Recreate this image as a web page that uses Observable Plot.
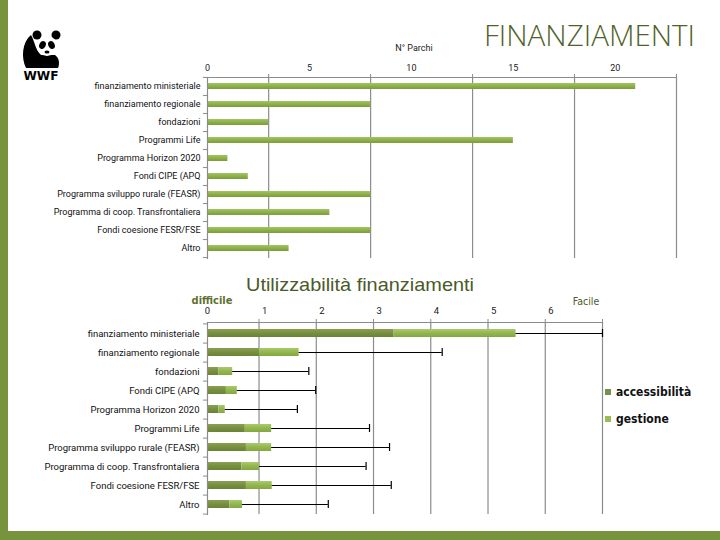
<!DOCTYPE html>
<html>
<head>
<meta charset="utf-8">
<script src="https://cdn.jsdelivr.net/npm/d3@7"></script>
<script src="https://cdn.jsdelivr.net/npm/@observablehq/plot@0.6"></script>
<style>
  body { margin:0; }
  #page { position:relative; width:720px; height:540px; overflow:hidden; background:#fff; font-family: Roboto, "DejaVu Sans", sans-serif; }
  .abs { position:absolute; }
  #top, #bottom { position:absolute; left:0; }
  #top { top:40px; }
  #bottom { top:290px; }
  .leg { position:absolute; left:605px; font-family:"DejaVu Sans Condensed","DejaVu Sans",sans-serif; font-weight:bold; font-size:12px; color:#111; }
  .leg span.sw { display:inline-block; width:6px; height:6px; margin-right:5px; vertical-align:middle; position:relative; top:-1px; }
</style>
</head>
<body>
<div id="page">
  <div class="abs" style="left:0;top:0;width:8px;height:540px;background:#77933c"></div>
  <div class="abs" style="left:0;top:531px;width:720px;height:9px;background:#77933c"></div>
  <svg class="abs" style="left:0;top:0" width="720" height="540">
    <!-- WWF logo approximation -->
    <g>
      <path d="M31,35 C22,42 21,58 26,68 L58,68 C60,63 59,58 55,55 L41,55 C35,49 35,42 31,35Z" fill="#000"/>
      <circle cx="37" cy="35" r="4.5" fill="#000"/>
      <circle cx="56" cy="35" r="4.5" fill="#000"/>
      <ellipse cx="47" cy="46" rx="10.5" ry="10" fill="#fff"/>
      <ellipse cx="42.5" cy="45" rx="3.2" ry="4" fill="#000" transform="rotate(25 42.5 45)"/>
      <ellipse cx="51.5" cy="45" rx="3.2" ry="4" fill="#000" transform="rotate(-25 51.5 45)"/>
      <ellipse cx="47" cy="52" rx="2.5" ry="1.6" fill="#000"/>
      <text x="41" y="80" text-anchor="middle" font-family="'DejaVu Sans', sans-serif" font-weight="bold" font-size="12" textLength="35" lengthAdjust="spacingAndGlyphs" fill="#000">WWF</text>
    </g>
    <text x="484" y="46" font-family="'Open Sans', Roboto, sans-serif" font-weight="300" font-size="29" fill="#4f6228" textLength="211" lengthAdjust="spacingAndGlyphs">FINANZIAMENTI</text>
    <text x="414" y="51" text-anchor="middle" font-family="Roboto, sans-serif" font-size="9" fill="#222">N° Parchi</text>
    <text x="360" y="291" text-anchor="middle" font-family="'Liberation Sans', Arial, sans-serif" font-size="19" fill="#4a5a28" textLength="228" lengthAdjust="spacingAndGlyphs">Utilizzabilità finanziamenti</text>
    <text x="212" y="304" text-anchor="middle" font-family="'DejaVu Sans Condensed', sans-serif" font-weight="bold" font-size="11" fill="#5f7030">difficile</text>
    <text x="586" y="305" text-anchor="middle" font-family="'DejaVu Sans Condensed', sans-serif" font-size="10.5" fill="#4f5a2a">Facile</text>
  </svg>
  <div id="top"></div>
  <div id="bottom"></div>
  <div class="leg" style="top:385px"><span class="sw" style="background:#77904a"></span>accessibilità</div>
  <div class="leg" style="top:412px"><span class="sw" style="background:#9bbb59"></span>gestione</div>
</div>
<script>
// ---- Top chart data: N° Parchi per fonte di finanziamento ----
const topCategories = [
  "finanziamento ministeriale",
  "finanziamento regionale",
  "fondazioni",
  "Programmi Life",
  "Programma Horizon 2020",
  "Fondi CIPE (APQ",
  "Programma sviluppo rurale (FEASR)",
  "Programma di coop. Transfrontaliera",
  "Fondi coesione FESR/FSE",
  "Altro"
];
const topValues = [21, 8, 3, 15, 1, 2, 8, 6, 8, 4];
const topTickLabels = [0, 5, 10, 15, 20];
const topGrid = [3, 8, 13, 18, 23];

// ---- Bottom chart data: Utilizzabilità finanziamenti ----
const bottomCategories = [
  "finanziamento ministeriale",
  "finanziamento regionale",
  "fondazioni",
  "Fondi CIPE (APQ",
  "Programma Horizon 2020",
  "Programmi Life",
  "Programma sviluppo rurale (FEASR)",
  "Programma di coop. Transfrontaliera",
  "Fondi coesione FESR/FSE",
  "Altro"
];
const accessibilita = [3.26, 0.91, 0.20, 0.33, 0.20, 0.66, 0.68, 0.60, 0.68, 0.39];
const gestione      = [2.13, 0.69, 0.24, 0.19, 0.11, 0.46, 0.44, 0.31, 0.45, 0.22];
const errorEnd      = [6.90, 4.10, 1.77, 1.89, 1.57, 2.83, 3.18, 2.77, 3.21, 2.11];
const seriesNames = ["accessibilità", "gestione"];
const bottomTickLabels = [0, 1, 2, 3, 4, 5, 6];
const bottomGrid = [0.9, 1.9, 2.9, 3.9, 4.9, 5.9, 6.9];

const labelFont = "Roboto, 'DejaVu Sans', sans-serif";
const gridColor = "#8c8c8c";
const intFmt = d3.format("d");

function addGradients(svg, defsSpec) {
  const ns = "http://www.w3.org/2000/svg";
  const defs = document.createElementNS(ns, "defs");
  for (const [id, stops] of defsSpec) {
    const g = document.createElementNS(ns, "linearGradient");
    g.setAttribute("id", id);
    g.setAttribute("x1", "0"); g.setAttribute("y1", "0");
    g.setAttribute("x2", "0"); g.setAttribute("y2", "1");
    stops.forEach(([o, c]) => {
      const s = document.createElementNS(ns, "stop");
      s.setAttribute("offset", o); s.setAttribute("stop-color", c);
      g.appendChild(s);
    });
    defs.appendChild(g);
  }
  svg.insertBefore(defs, svg.firstChild);
}

// ---- Top chart ----
const topData = topCategories.map((c, i) => ({cat: c, value: topValues[i]}));
const topPlot = Plot.plot({
  width: 720, height: 222,
  marginLeft: 207, marginRight: 44, marginTop: 37, marginBottom: 4,
  style: {background: "transparent", fontFamily: labelFont, fontSize: "9px", color: "#222", overflow: "visible"},
  x: {domain: [0, 23], axis: null},
  y: {domain: topCategories, axis: null, paddingInner: 0.66, paddingOuter: 0.33},
  marks: [
    Plot.ruleX(topGrid, {x: d => d, stroke: gridColor, strokeWidth: 1.2}),
    Plot.ruleY(topCategories, {y: d => d, x1: -0.2, x2: 0, dy: 9.05, stroke: gridColor}),
    Plot.ruleY(topCategories.slice(0, 1), {y: d => d, x1: -0.2, x2: 0, dy: -9.05, stroke: gridColor}),
    Plot.barX(topData, {x: "value", y: "cat", fill: "url(#gTop)"}),
    Plot.axisX({anchor: "top", ticks: topGrid, tickFormat: () => "", tickSize: 4, stroke: gridColor, label: null}),
    Plot.axisX({anchor: "top", ticks: topTickLabels, tickFormat: intFmt, tickSize: 0, tickPadding: 7, fill: "#222", label: null}),
    Plot.axisY({anchor: "left", tickSize: 0, tickPadding: 7, fill: "#111", label: null}),
    Plot.frame({anchor: "top", stroke: gridColor, strokeWidth: 1.2}),
    Plot.frame({anchor: "left", stroke: gridColor, strokeWidth: 1.2})
  ]
});
addGradients(topPlot, [["gTop", [["0", "#a3c463"], ["0.5", "#8fb14b"], ["1", "#7b9c3a"]]]]);
document.getElementById("top").appendChild(topPlot);

// ---- Bottom chart ----
const longData = [];
bottomCategories.forEach((c, i) => {
  longData.push({cat: c, series: seriesNames[0], value: accessibilita[i]});
  longData.push({cat: c, series: seriesNames[1], value: gestione[i]});
});
const errData = bottomCategories.map((c, i) => ({
  cat: c, start: accessibilita[i] + gestione[i], end: errorEnd[i]
}));
const bottomPlot = Plot.plot({
  width: 720, height: 230,
  marginLeft: 207, marginRight: 118, marginTop: 32, marginBottom: 6,
  style: {background: "transparent", fontFamily: labelFont, fontSize: "9.5px", color: "#222", overflow: "visible"},
  x: {domain: [0, 6.9], axis: null},
  y: {domain: bottomCategories, axis: null, paddingInner: 0.6, paddingOuter: 0.3},
  color: {domain: seriesNames, range: ["url(#gAcc)", "url(#gGes)"]},
  marks: [
    Plot.ruleX(bottomGrid, {x: d => d, stroke: gridColor, strokeWidth: 1.2}),
    Plot.ruleY(bottomCategories, {y: d => d, x1: -0.07, x2: 0, dy: 9.6, stroke: gridColor}),
    Plot.ruleY(bottomCategories.slice(0, 1), {y: d => d, x1: -0.07, x2: 0, dy: -9.6, stroke: gridColor}),
    Plot.barX(longData, Plot.stackX({x: "value", y: "cat", fill: "series", order: seriesNames})),
    Plot.ruleY(errData, {y: "cat", x1: "start", x2: "end", stroke: "#000", strokeWidth: 1.2}),
    Plot.tickX(errData, {x: "end", y: "cat", stroke: "#000", strokeWidth: 1.2}),
    Plot.axisX({anchor: "top", ticks: bottomGrid, tickFormat: () => "", tickSize: 4, stroke: gridColor, label: null}),
    Plot.axisX({anchor: "top", ticks: bottomTickLabels, tickFormat: intFmt, tickSize: 0, tickPadding: 9, fill: "#222", label: null}),
    Plot.axisY({anchor: "left", tickSize: 0, tickPadding: 8, fill: "#111", label: null}),
    Plot.frame({anchor: "top", stroke: gridColor, strokeWidth: 1.2}),
    Plot.frame({anchor: "left", stroke: gridColor, strokeWidth: 1.2})
  ]
});
addGradients(bottomPlot, [
  ["gAcc", [["0", "#8a9f55"], ["0.5", "#77903f"], ["1", "#6a8236"]]],
  ["gGes", [["0", "#aacb6c"], ["0.5", "#93b64f"], ["1", "#84a840"]]]
]);
document.getElementById("bottom").appendChild(bottomPlot);
</script>
</body>
</html>
